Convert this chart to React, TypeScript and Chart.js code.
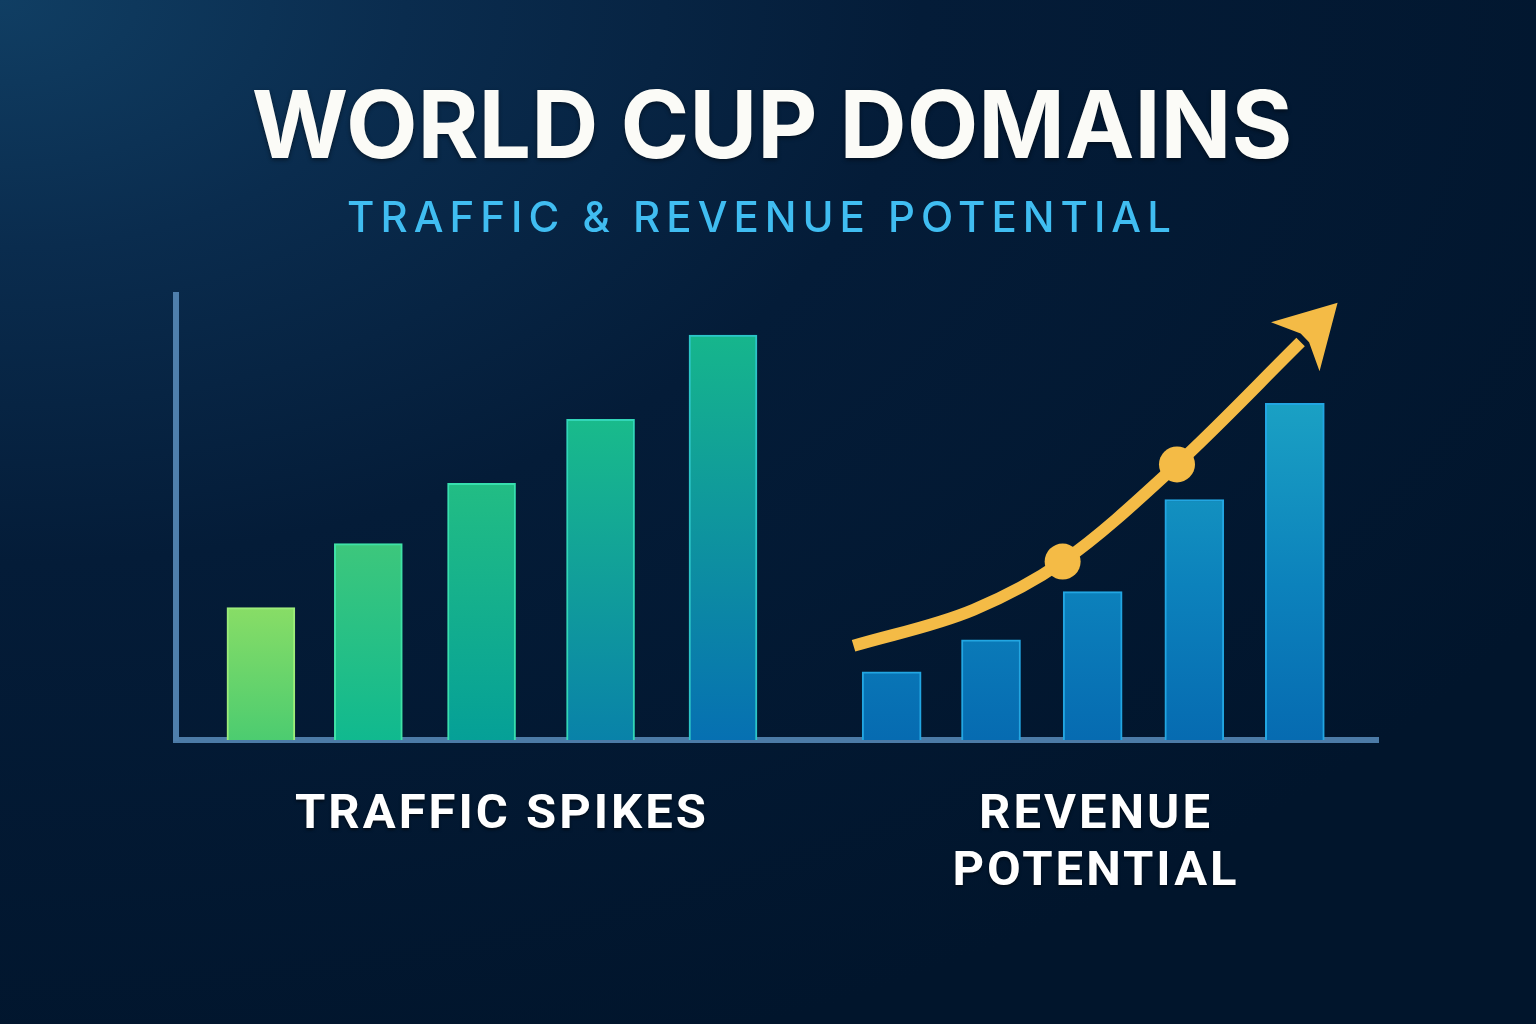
import React, { useEffect, useRef } from 'react';
import { Chart, registerables } from 'chart.js';

Chart.register(...registerables);

// slots on the shared x axis (traffic group left, revenue group right)
const trafficSlots = [1.06, 1.99, 2.97, 4.0, 5.06];
const trafficValues = [33, 49, 64, 80, 101];

const revenueSlots = [6.52, 7.38, 8.26, 9.14, 10.01];
const revenueValues = [17, 25, 37, 60, 84];

// yellow growth curve
const trendSlots = [6.19, 7.23, 8.0, 8.99, 10.06];
const trendValues = [23.5, 32.5, 44.5, 68.75, 99.25];
const trendMarkers = [2, 3];

const trafficTop = ['#88dd66', '#3dc77c', '#22bd84', '#19bb8b', '#16b68c'];
const trafficBottom = ['#4ccc70', '#10b98f', '#05a097', '#0982a9', '#0670b2'];
const trafficBorder = ['#9cec7a', '#3fe2a6', '#37dfae', '#32d6b8', '#2cc6c8'];

const YELLOW = '#f4bb46';

const arrowHead = {
  id: 'arrowHead',
  afterDatasetsDraw(chart: any) {
    const meta = chart.getDatasetMeta(2);
    const pts = meta.data;
    if (!pts || pts.length < 2) return;
    const end = pts[pts.length - 1];
    const prev = pts[pts.length - 2];
    const ang = Math.atan2(end.y - prev.y, end.x - prev.x);
    const c = chart.ctx;
    c.save();
    c.translate(end.x, end.y);
    c.rotate(ang);
    c.beginPath();
    c.moveTo(54, -2);
    c.lineTo(-7, -35);
    c.lineTo(6, -6);
    c.lineTo(6, 6);
    c.lineTo(-7, 34);
    c.closePath();
    c.fillStyle = YELLOW;
    c.fill();
    c.restore();
  },
};

const GrowthChart: React.FC = () => {
  const canvasRef = useRef<HTMLCanvasElement>(null);
  const chartRef = useRef<Chart | null>(null);

  useEffect(() => {
    if (!canvasRef.current) return;
    if (chartRef.current) chartRef.current.destroy();
    const ctx = canvasRef.current.getContext('2d');
    if (!ctx) return;

    const trafficFill = (c: any) => {
      if (c.type !== 'data') return trafficTop[0];
      const chart = c.chart;
      const area = chart.chartArea;
      if (!area) return trafficTop[c.dataIndex];
      const top = chart.scales.y.getPixelForValue(trafficValues[c.dataIndex]);
      const g = chart.ctx.createLinearGradient(0, top, 0, area.bottom);
      g.addColorStop(0, trafficTop[c.dataIndex]);
      g.addColorStop(1, trafficBottom[c.dataIndex]);
      return g;
    };

    const revenueFill = (c: any) => {
      const chart = c.chart;
      const area = chart.chartArea;
      if (!area) return '#0a80bc';
      const g = chart.ctx.createLinearGradient(0, area.top + 100, 0, area.bottom);
      g.addColorStop(0, '#1ba2c4');
      g.addColorStop(0.55, '#0c82bc');
      g.addColorStop(1, '#066bb1');
      return g;
    };

    chartRef.current = new Chart(ctx, {
      type: 'bar',
      data: {
        datasets: [
          {
            type: 'bar',
            label: 'Traffic spikes',
            data: trafficSlots.map((x, i) => ({ x, y: trafficValues[i] })),
            backgroundColor: trafficFill,
            borderColor: trafficBorder,
            borderWidth: { top: 2, left: 2, right: 2, bottom: 0 },
            barThickness: 68,
            grouped: false,
            order: 1,
          },
          {
            type: 'bar',
            label: 'Revenue potential',
            data: revenueSlots.map((x, i) => ({ x, y: revenueValues[i] })),
            backgroundColor: revenueFill,
            borderColor: '#22a6e2',
            borderWidth: { top: 2, left: 2, right: 2, bottom: 0 },
            barThickness: 59,
            grouped: false,
            order: 1,
          },
          {
            type: 'line',
            label: 'Growth',
            data: trendSlots.map((x, i) => ({ x, y: trendValues[i] })),
            borderColor: YELLOW,
            backgroundColor: YELLOW,
            borderWidth: 12,
            borderCapStyle: 'butt',
            cubicInterpolationMode: 'monotone',
            pointRadius: trendSlots.map((_, i) => (trendMarkers.includes(i) ? 18 : 0)),
            pointBackgroundColor: YELLOW,
            pointBorderWidth: 0,
            clip: false,
            order: 0,
          } as any,
        ],
      },
      options: {
        responsive: true,
        maintainAspectRatio: false,
        animation: false,
        layout: { padding: { left: 176, right: 158, top: 295, bottom: 284 } },
        plugins: {
          legend: { display: false },
          tooltip: { enabled: false },
        },
        scales: {
          x: {
            type: 'linear',
            offset: false,
            min: 0.325,
            max: 10.73,
            grid: { display: false, drawTicks: false },
            ticks: { display: false },
            border: { display: true, color: '#4c7ba7', width: 6 },
          },
          y: {
            min: 0,
            max: 111,
            grid: { display: false, drawTicks: false },
            ticks: { display: false },
            border: { display: true, color: '#4f7fac', width: 6 },
          },
        },
      },
      plugins: [arrowHead],
    });

    return () => {
      if (chartRef.current) {
        chartRef.current.destroy();
        chartRef.current = null;
      }
    };
  }, []);

  return <canvas ref={canvasRef}></canvas>;
};

const textBase: React.CSSProperties = {
  position: 'absolute',
  transform: 'translateX(-50%)',
  whiteSpace: 'nowrap',
  textAlign: 'center',
  margin: 0,
};

export default function App() {
  return (
    <div
      style={{
        position: 'fixed',
        left: 0,
        top: 0,
        width: 1536,
        height: 1024,
        overflow: 'hidden',
        background:
          'radial-gradient(ellipse 120% 110% at 0% 0%, #103e63 0%, #0a2c4e 22%, #041c38 50%, #01152c 100%)',
      }}
    >
      <div
        style={{
          ...textBase,
          left: 772,
          top: 78,
          fontFamily: 'Inter, sans-serif',
          fontWeight: 700,
          fontSize: 93,
          lineHeight: '93px',
          letterSpacing: 0,
          color: '#fbfbf7',
          textShadow: '0 2px 4px rgba(0,0,0,0.45)',
        }}
      >
        WORLD CUP DOMAINS
      </div>
      <div
        style={{
          ...textBase,
          left: 762,
          top: 196,
          fontFamily: 'Inter, sans-serif',
          fontWeight: 500,
          fontSize: 42,
          lineHeight: '42px',
          letterSpacing: 6,
          color: '#40bdf1',
        }}
      >
        TRAFFIC &amp; REVENUE POTENTIAL
      </div>
      <div style={{ position: 'absolute', left: 0, top: 0, width: 1536, height: 1024 }}>
        <GrowthChart />
      </div>
      <div
        style={{
          ...textBase,
          left: 502,
          top: 783,
          fontFamily: 'Roboto, sans-serif',
          fontWeight: 700,
          fontSize: 49,
          lineHeight: '57px',
          letterSpacing: 3,
          color: '#ffffff',
          textShadow: '0 2px 3px rgba(0,0,0,0.5)',
        }}
      >
        TRAFFIC SPIKES
      </div>
      <div
        style={{
          ...textBase,
          left: 1096,
          top: 783,
          fontFamily: 'Roboto, sans-serif',
          fontWeight: 700,
          fontSize: 49,
          lineHeight: '57px',
          letterSpacing: 3,
          color: '#ffffff',
          textShadow: '0 2px 3px rgba(0,0,0,0.5)',
        }}
      >
        REVENUE
        <br />
        POTENTIAL
      </div>
    </div>
  );
}
